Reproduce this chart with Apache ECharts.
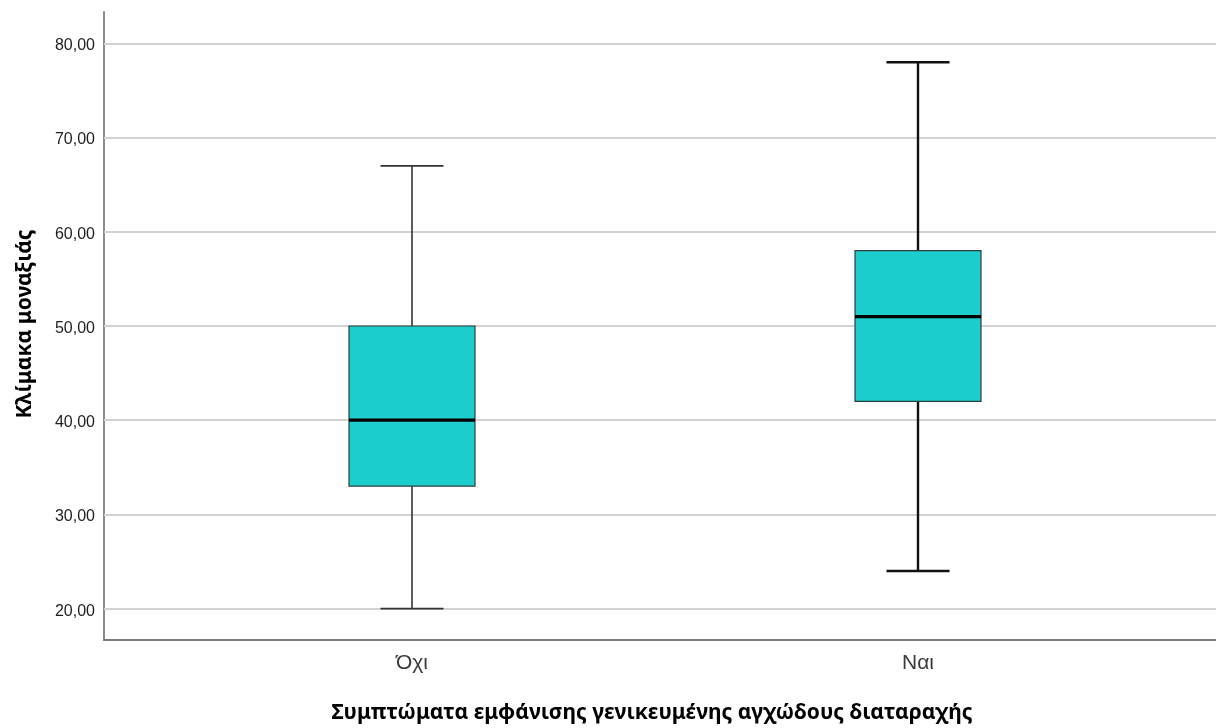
<!DOCTYPE html>
<html>
<head>
<meta charset="utf-8">
<script src="https://cdn.jsdelivr.net/npm/echarts@6/dist/echarts.min.js"></script>
<style>
  html, body { margin: 0; padding: 0; background: #fff; }
  #chart { width: 1216px; height: 728px; }
</style>
</head>
<body>
<div id="chart"></div>
<script>
// Groups on the horizontal axis
const categories = ['Όχι', 'Ναι'];
// Five-number summaries per group: [min, Q1, median, Q3, max]
const minValues    = [20, 24];
const q1Values     = [33, 42];
const medianValues = [40, 51];
const q3Values     = [50, 58];
const maxValues    = [67, 78];
// Value-axis ticks
const yTicks = [20, 30, 40, 50, 60, 70, 80];

const yTitle = 'Κλίμακα μοναξιάς';
const xTitle = 'Συμπτώματα εμφάνισης γενικευμένης αγχώδους διαταραχής';

const boxData = categories.map((c, i) => [i, minValues[i], q1Values[i], medianValues[i], q3Values[i], maxValues[i]]);

const Y_MIN = 16.67, Y_MAX = 83.33;
const BOX_FILL = '#1ccdcd';
// whisker line widths per group
const whiskerWidth = [1.6, 2.4];
const whiskerColor = ['#333333', '#111111'];

const chart = echarts.init(document.getElementById('chart'), null, { renderer: 'canvas' });

function renderBox(params, api) {
  const idx = api.value(0);
  const vMin = api.value(1), q1 = api.value(2), med = api.value(3), q3 = api.value(4), vMax = api.value(5);
  const band = api.size([1, 0])[0];
  const half = band * 0.1245;
  const capHalf = half / 2;
  const pMin = api.coord([idx, vMin]);
  const pQ1 = api.coord([idx, q1]);
  const pMed = api.coord([idx, med]);
  const pQ3 = api.coord([idx, q3]);
  const pMax = api.coord([idx, vMax]);
  const cx = pMed[0];
  const lw = whiskerWidth[idx];
  const lc = whiskerColor[idx];
  const lineStyle = { stroke: lc, lineWidth: lw };
  return {
    type: 'group',
    children: [
      { type: 'line', shape: { x1: cx, y1: pQ3[1], x2: cx, y2: pMax[1] }, style: lineStyle },
      { type: 'line', shape: { x1: cx, y1: pQ1[1], x2: cx, y2: pMin[1] }, style: lineStyle },
      { type: 'line', shape: { x1: cx - capHalf, y1: pMax[1], x2: cx + capHalf, y2: pMax[1] }, style: lineStyle },
      { type: 'line', shape: { x1: cx - capHalf, y1: pMin[1], x2: cx + capHalf, y2: pMin[1] }, style: lineStyle },
      {
        type: 'rect',
        shape: { x: cx - half, y: pQ3[1], width: half * 2, height: pQ1[1] - pQ3[1] },
        style: { fill: BOX_FILL, stroke: '#2f3f3f', lineWidth: 1.2 }
      },
      { type: 'line', shape: { x1: cx - half, y1: pMed[1], x2: cx + half, y2: pMed[1] }, style: { stroke: '#000', lineWidth: 3.2 } }
    ]
  };
}

const option = {
  backgroundColor: '#ffffff',
  animation: false,
  grid: [
    { left: 104, right: 0, top: 12, bottom: 88, containLabel: false },
    { left: 159, right: 45, top: 12, bottom: 88, containLabel: false }
  ],
  xAxis: [
    {
      gridIndex: 0, type: 'value', min: 0, max: 1,
      axisLine: { show: true, onZero: false, lineStyle: { color: '#7a7a7a', width: 2 } },
      axisTick: { show: false }, axisLabel: { show: false }, splitLine: { show: false }
    },
    {
      gridIndex: 1, type: 'category', data: categories, boundaryGap: true,
      axisLine: { show: false }, axisTick: { show: false }, splitLine: { show: false },
      axisLabel: { margin: 13, fontFamily: 'Liberation Sans', fontSize: 21, color: '#3a3a3a' }
    }
  ],
  yAxis: [
    {
      gridIndex: 0, type: 'value', min: Y_MIN, max: Y_MAX,
      axisLine: { show: true, lineStyle: { color: '#8c8c8c', width: 2 } },
      axisTick: { show: false, customValues: yTicks },
      axisLabel: {
        customValues: yTicks,
        margin: 9,
        formatter: v => '{t|' + v.toFixed(2).replace('.', ',') + '}',
        rich: {
          t: { fontFamily: 'Liberation Sans', fontSize: 16, color: '#1e1e1e', padding: [5, 0, 0, 0] }
        }
      },
      splitLine: { show: false }
    },
    {
      gridIndex: 1, type: 'value', min: Y_MIN, max: Y_MAX,
      axisLine: { show: false }, axisTick: { show: false }, axisLabel: { show: false }, splitLine: { show: false }
    }
  ],
  series: [
    {
      // horizontal reference lines at each tick
      type: 'line', xAxisIndex: 0, yAxisIndex: 0, data: [], silent: true,
      markLine: {
        silent: true, symbol: 'none', label: { show: false },
        lineStyle: { color: '#d2d2d2', width: 2, type: 'solid' },
        data: yTicks.map(t => ({ yAxis: t }))
      }
    },
    {
      type: 'custom', xAxisIndex: 1, yAxisIndex: 1,
      renderItem: renderBox,
      encode: { x: 0, y: [1, 2, 3, 4, 5] },
      data: boxData,
      z: 5
    }
  ],
  graphic: [
    {
      type: 'text', x: 652, y: 713,
      style: { text: xTitle, font: 'bold 21px "Noto Sans"', fill: '#000', align: 'center', verticalAlign: 'middle' }
    },
    {
      type: 'text', x: 25, y: 324, rotation: Math.PI / 2,
      style: { text: yTitle, font: 'bold 21px "Noto Sans"', fill: '#000', align: 'center', verticalAlign: 'middle' }
    }
  ]
};

chart.setOption(option);
</script>
</body>
</html>
